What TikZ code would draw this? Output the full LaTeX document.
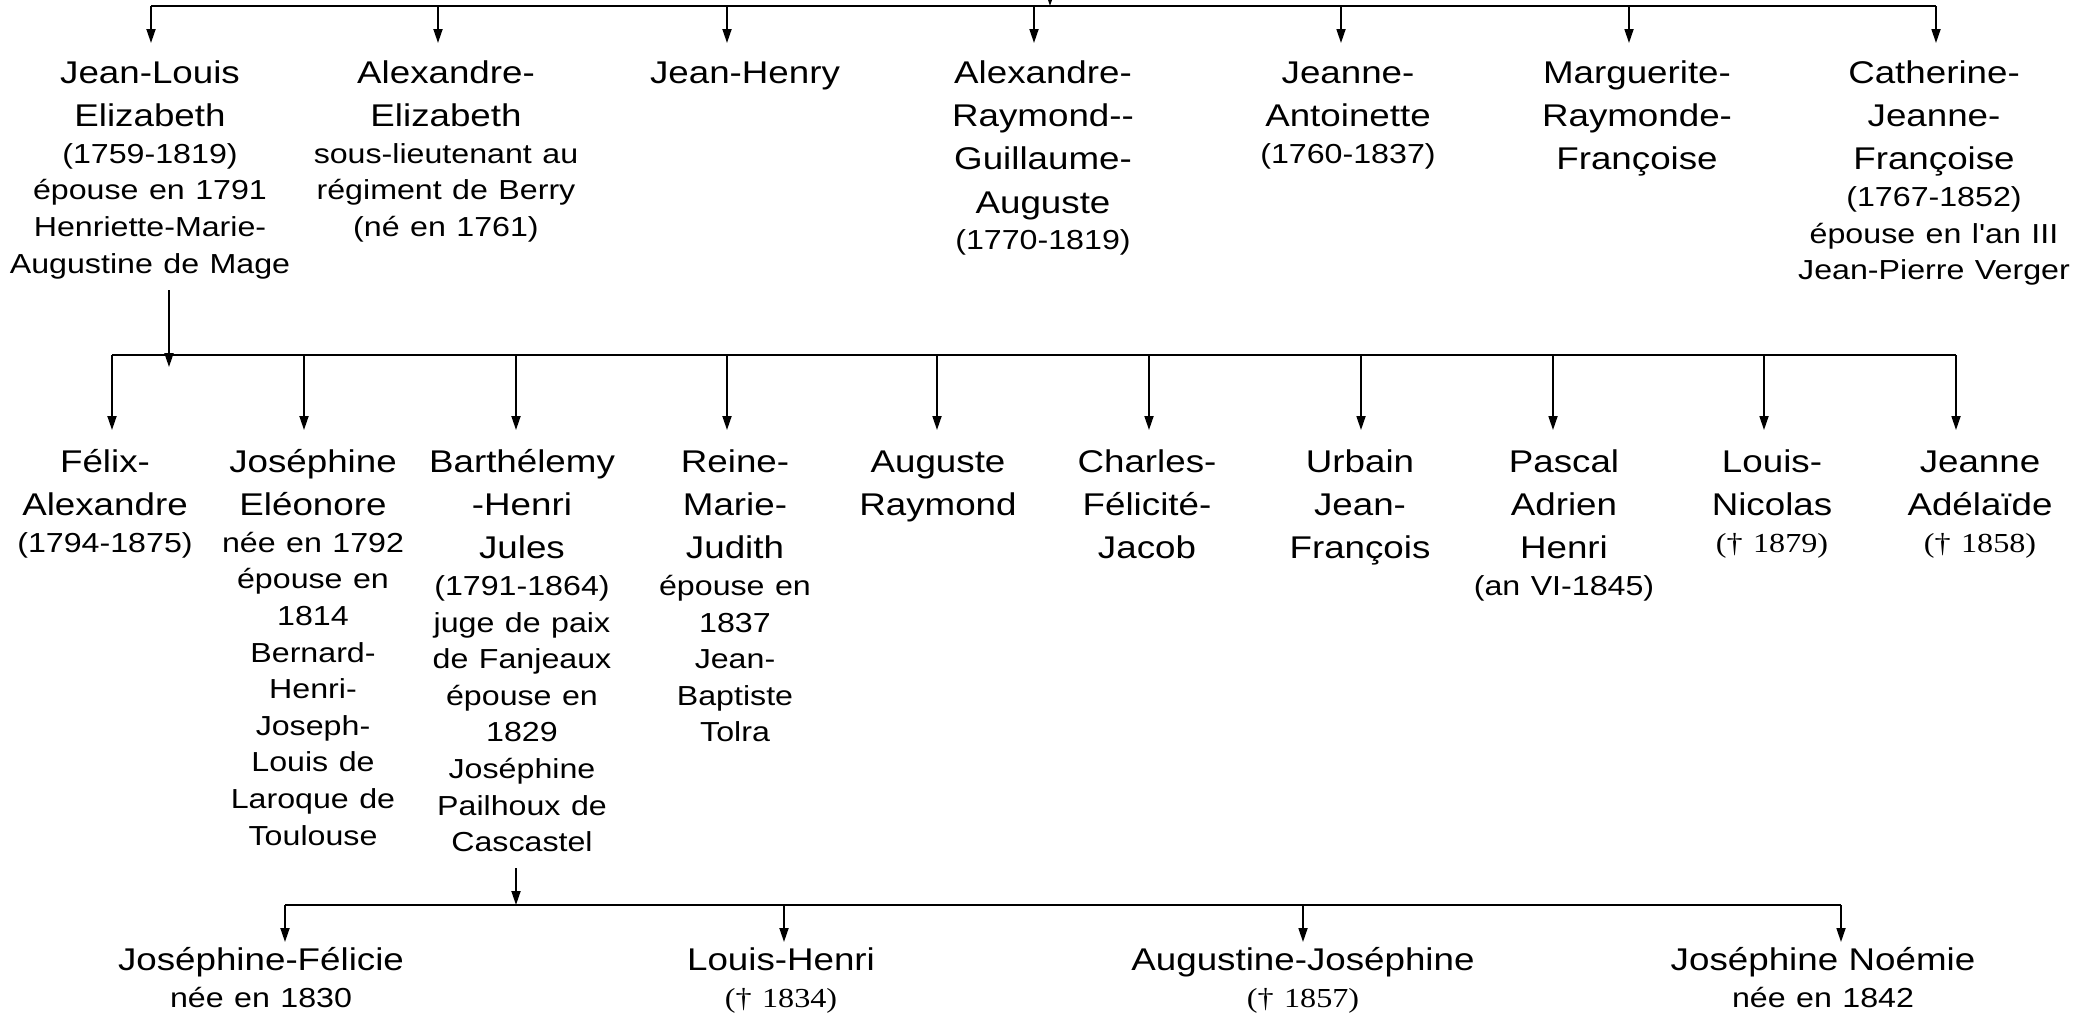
\documentclass[tikz,border=0pt]{standalone}
\usepackage{fontspec}
\setmainfont{Liberation Sans}[FakeStretch=1.17,Ligatures=TeXOff]
\newfontfamily\crossfont{Liberation Serif}[FakeStretch=1.17,Ligatures=TeXOff]
\usetikzlibrary{arrows.meta,calc}
\newcommand{\namesize}{\fontsize{15.7}{21.6}\selectfont}
\newcommand{\notesize}{\fontsize{13.75}{18.3}\selectfont}
\newcommand{\died}[1]{{\crossfont(\char"2020\ #1)}}
\tikzstyle{bar}=[line width=1.3pt]
\tikzstyle{child}=[line width=0.9pt,-{Triangle[length=7pt,width=4.5pt]}]
\tikzstyle{person}=[anchor=north,inner sep=0pt,text width=200pt,align=center,font=\namesize]
\tikzstyle{genone}=[person,text height=20pt]
\tikzstyle{gentwo}=[person,text height=21pt]
\tikzstyle{genthree}=[person,text height=14pt]

\begin{document}
\begin{tikzpicture}[x=0.5pt,y=-0.5pt]
	\path[use as bounding box,fill=white] (0,0) rectangle (2094,1014);
	% first generation
	\coordinate (root) at (1050,-40);
	\coordinate (topW) at (151,6);
	\coordinate (topE) at (1936,6);
	\node[genone] (jeanlouis) at (150,43) {Jean-Louis\\Elizabeth\par\notesize (1759-1819)\\épouse en 1791\\Henriette-Marie-\\Augustine de Mage\par};
	\node[genone] (alexelis) at (446,43) {Alexandre-\\Elizabeth\par\notesize sous-lieutenant au\\régiment de Berry\\(né en 1761)\par};
	\node[genone] (jeanhenry) at (745,43) {Jean-Henry\par};
	\node[genone] (alexraym) at (1043,43) {Alexandre-\\Raymond--\\Guillaume-\\Auguste\par\notesize (1770-1819)\par};
	\node[genone] (jeanneant) at (1348,43) {Jeanne-\\Antoinette\par\notesize (1760-1837)\par};
	\node[genone] (marguerite) at (1637,43) {Marguerite-\\Raymonde-\\Françoise\par};
	\node[genone] (catherine) at (1934,43) {Catherine-\\Jeanne-\\Françoise\par\notesize (1767-1852)\\épouse en l'an III\\Jean-Pierre Verger\par};
	\draw[child] (root) -- (root |- topW);
	\draw[bar] (topW) -- (topE);
	\foreach \who/\ax in {jeanlouis/151,alexelis/438,jeanhenry/727,alexraym/1034,jeanneant/1341,marguerite/1629,catherine/1936}
		\draw[child] (\ax,0 |- topW) -- (\ax,0 |- \who.north);
	% second generation
	\coordinate (midW) at (112,355);
	\coordinate (midE) at (1956,355);
	\node[gentwo] (felix) at (105,430) {Félix-\\Alexandre\par\notesize (1794-1875)\par};
	\node[gentwo] (josephine) at (313,430) {Joséphine\\Eléonore\par\notesize née en 1792\\épouse en\\1814\\Bernard-\\Henri-\\Joseph-\\Louis de\\Laroque de\\Toulouse\par};
	\node[gentwo] (barthelemy) at (522,430) {Barthélemy\\-Henri\\Jules\par\notesize (1791-1864)\\juge de paix\\de Fanjeaux\\épouse en\\1829\\Joséphine\\Pailhoux de\\Cascastel\par};
	\node[gentwo] (reine) at (735,430) {Reine-\\Marie-\\Judith\par\notesize épouse en\\1837\\Jean-\\Baptiste\\Tolra\par};
	\node[gentwo] (auguste) at (938,430) {Auguste\\Raymond\par};
	\node[gentwo] (charles) at (1147,430) {Charles-\\Félicité-\\Jacob\par};
	\node[gentwo] (urbain) at (1360,430) {Urbain\\Jean-\\François\par};
	\node[gentwo] (pascal) at (1564,430) {Pascal\\Adrien\\Henri\par\notesize (an VI-1845)\par};
	\node[gentwo] (louisnic) at (1772,430) {Louis-\\Nicolas\par\notesize \died{1879}\par};
	\node[gentwo] (jeanneade) at (1980,430) {Jeanne\\Adélaïde\par\notesize \died{1858}\par};
	\coordinate (jlDown) at ($(169,0 |- jeanlouis.south)+(0,11)$);
	\draw[child] (jlDown) -- ($(jlDown |- midW)+(0,12)$);
	\draw[bar] (midW) -- (midE);
	\foreach \who/\ax in {felix/112,josephine/304,barthelemy/516,reine/727,auguste/937,charles/1149,urbain/1361,pascal/1553,louisnic/1764,jeanneade/1956}
		\draw[child] (\ax,0 |- midW) -- (\ax,0 |- \who.north);
	% third generation
	\coordinate (lowW) at (285,905);
	\coordinate (lowE) at (1841,905);
	\node[genthree] (josfel) at (261,942) {Joséphine-Félicie\par\notesize née en 1830\par};
	\node[genthree] (louishenri) at (781,942) {Louis-Henri\par\notesize \died{1834}\par};
	\node[genthree] (augjos) at (1303,942) {Augustine-Joséphine\par\notesize \died{1857}\par};
	\node[genthree] (josnoe) at (1823,942) {Joséphine Noémie\par\notesize née en 1842\par};
	\coordinate (bthDown) at ($(516,0 |- barthelemy.south)+(0,16)$);
	\draw[child] (bthDown) -- (bthDown |- lowW);
	\draw[bar] (lowW) -- (lowE);
	\foreach \who/\ax in {josfel/285,louishenri/784,augjos/1303,josnoe/1841}
		\draw[child] (\ax,0 |- lowW) -- (\ax,0 |- \who.north);
\end{tikzpicture}
\end{document}
